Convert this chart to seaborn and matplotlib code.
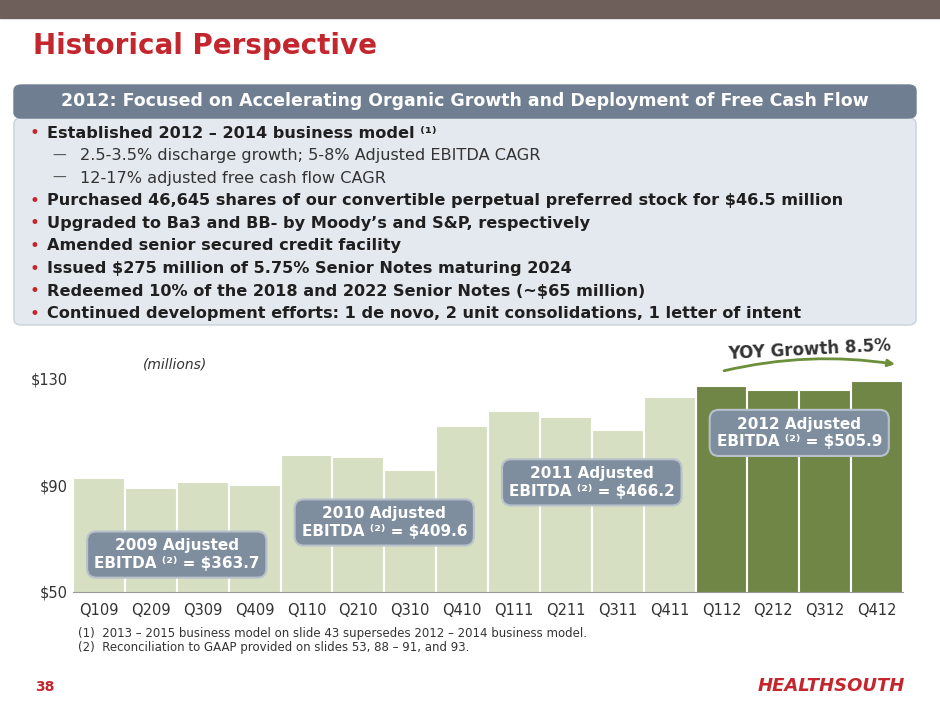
import matplotlib
matplotlib.use("Agg")
import matplotlib.pyplot as plt
import seaborn as sns
import pandas as pd
from matplotlib.patches import Rectangle, FancyBboxPatch

quarters = ["Q109","Q209","Q309","Q409","Q110","Q210","Q310","Q410",
            "Q111","Q211","Q311","Q411","Q112","Q212","Q312","Q412"]
ebitda = [92.6, 88.9, 91.1, 90.0, 101.2, 100.5, 95.6, 112.1,
          117.7, 115.4, 110.6, 122.9, 127.0, 125.5, 125.5, 128.8]
years = ["2009"]*4 + ["2010"]*4 + ["2011"]*4 + ["2012"]*4
yticks = [50, 90, 130]
ytick_labels = ["$50", "$90", "$130"]
annual_labels = ["2009 Adjusted\nEBITDA ⁽²⁾ = $363.7",
                 "2010 Adjusted\nEBITDA ⁽²⁾ = $409.6",
                 "2011 Adjusted\nEBITDA ⁽²⁾ = $466.2",
                 "2012 Adjusted\nEBITDA ⁽²⁾ = $505.9"]
bullets = [
    (0, "Established 2012 – 2014 business model ⁽¹⁾"),
    (1, "2.5-3.5% discharge growth; 5-8% Adjusted EBITDA CAGR"),
    (1, "12-17% adjusted free cash flow CAGR"),
    (0, "Purchased 46,645 shares of our convertible perpetual preferred stock for $46.5 million"),
    (0, "Upgraded to Ba3 and BB- by Moody’s and S&P, respectively"),
    (0, "Amended senior secured credit facility"),
    (0, "Issued $275 million of 5.75% Senior Notes maturing 2024"),
    (0, "Redeemed 10% of the 2018 and 2022 Senior Notes (~$65 million)"),
    (0, "Continued development efforts: 1 de novo, 2 unit consolidations, 1 letter of intent"),
]

df = pd.DataFrame({"q": quarters, "v": ebitda, "year": years})
W, H = 940, 705
plt.rcParams["font.family"] = ["DejaVu Sans"]
fig = plt.figure(figsize=(9.4, 7.05), dpi=100)

def fx(x): return x / W
def fy(y): return 1 - y / H

fig.patches.append(Rectangle((0, fy(18)), 1, 18/H, transform=fig.transFigure, color="#6e5f5a"))
fig.text(fx(33), fy(46), "Historical Perspective", color="#c4262e", fontsize=20, fontweight="bold", va="center")
fig.patches.append(FancyBboxPatch((fx(14), fy(325)), fx(916-14), (325-118)/H, boxstyle="round,pad=0,rounding_size=0.008",
                                  transform=fig.transFigure, color="#e4e9ef", ec="#c9d1da"))
fig.patches.append(FancyBboxPatch((fx(14), fy(118)), fx(916-14), 33/H, boxstyle="round,pad=0,rounding_size=0.008",
                                  transform=fig.transFigure, color="#6f7e90"))
fig.text(fx(465), fy(101), "2012: Focused on Accelerating Organic Growth and Deployment of Free Cash Flow",
         color="white", fontsize=12.5, fontweight="bold", ha="center", va="center")
y = 133
for lvl, t in bullets:
    if lvl == 0:
        fig.text(fx(29), fy(y), "•", color="#c4262e", fontsize=12, va="center")
        fig.text(fx(47), fy(y), t, color="#1f1f1f", fontsize=11.6, fontweight="bold", va="center")
    else:
        fig.text(fx(52), fy(y), "—", color="#555555", fontsize=10, va="center")
        fig.text(fx(80), fy(y), t, color="#333333", fontsize=11.6, va="center")
    y += 22.6

ax = fig.add_axes([fx(73), fy(592), fx(903-73), (592-350)/H])
palette = {"2009": "#d8e4bc", "2010": "#d8e4bc", "2011": "#d8e4bc", "2012": "#73913b"}
sns.barplot(data=df, x="q", y="v", hue="year", palette=palette, dodge=False, width=1.0,
            edgecolor="white", linewidth=1.5, legend=False, ax=ax)
ax.set_ylim(50, 140.5)
ax.set_xlim(-0.5, 15.5)
ax.set_yticks(yticks)
ax.set_yticklabels(ytick_labels, fontsize=10.5, color="#333333")
ax.tick_params(axis="x", labelsize=10.5, colors="#333333", length=0, pad=8)
ax.tick_params(axis="y", length=0)
ax.set_xlabel(""); ax.set_ylabel("")
for s in ["top", "right", "left"]:
    ax.spines[s].set_visible(False)
ax.spines["bottom"].set_color("#999999")
ax.text(0.85, 133.5, "(millions)", fontsize=10, style="italic", color="#333333")
pos = [(1.5, 64), (5.5, 76), (9.5, 91), (13.5, 109.5)]
for (x, yy), lab in zip(pos, annual_labels):
    ax.text(x, yy, lab, ha="center", va="center", color="white", fontsize=11, fontweight="bold",
            bbox=dict(boxstyle="round,pad=0.45,rounding_size=0.6", fc="#7f8e9e", ec="#b8c1cb", lw=1.5))
ax.annotate("", xy=(15.4, 135), xytext=(12.0, 132.5),
            arrowprops=dict(arrowstyle="-|>", color="#6c8f3b", lw=2, connectionstyle="arc3,rad=-0.1"))
ax.text(13.7, 135.5, "YOY Growth 8.5%", ha="center", va="bottom", fontsize=12, fontweight="bold",
        color="#333333", rotation=3)

fig.text(fx(78), fy(633), "(1)  2013 – 2015 business model on slide 43 supersedes 2012 – 2014 business model.",
         fontsize=8.5, color="#333333", va="center")
fig.text(fx(78), fy(648), "(2)  Reconciliation to GAAP provided on slides 53, 88 – 91, and 93.",
         fontsize=8.5, color="#333333", va="center")
fig.text(fx(35), fy(687), "38", fontsize=10, fontweight="bold", color="#c4262e", va="center")
fig.text(fx(905), fy(686), "HEALTHSOUTH", fontsize=13, fontweight="bold", style="italic",
         color="#c4262e", ha="right", va="center")
fig.savefig("out.png", dpi=100)
